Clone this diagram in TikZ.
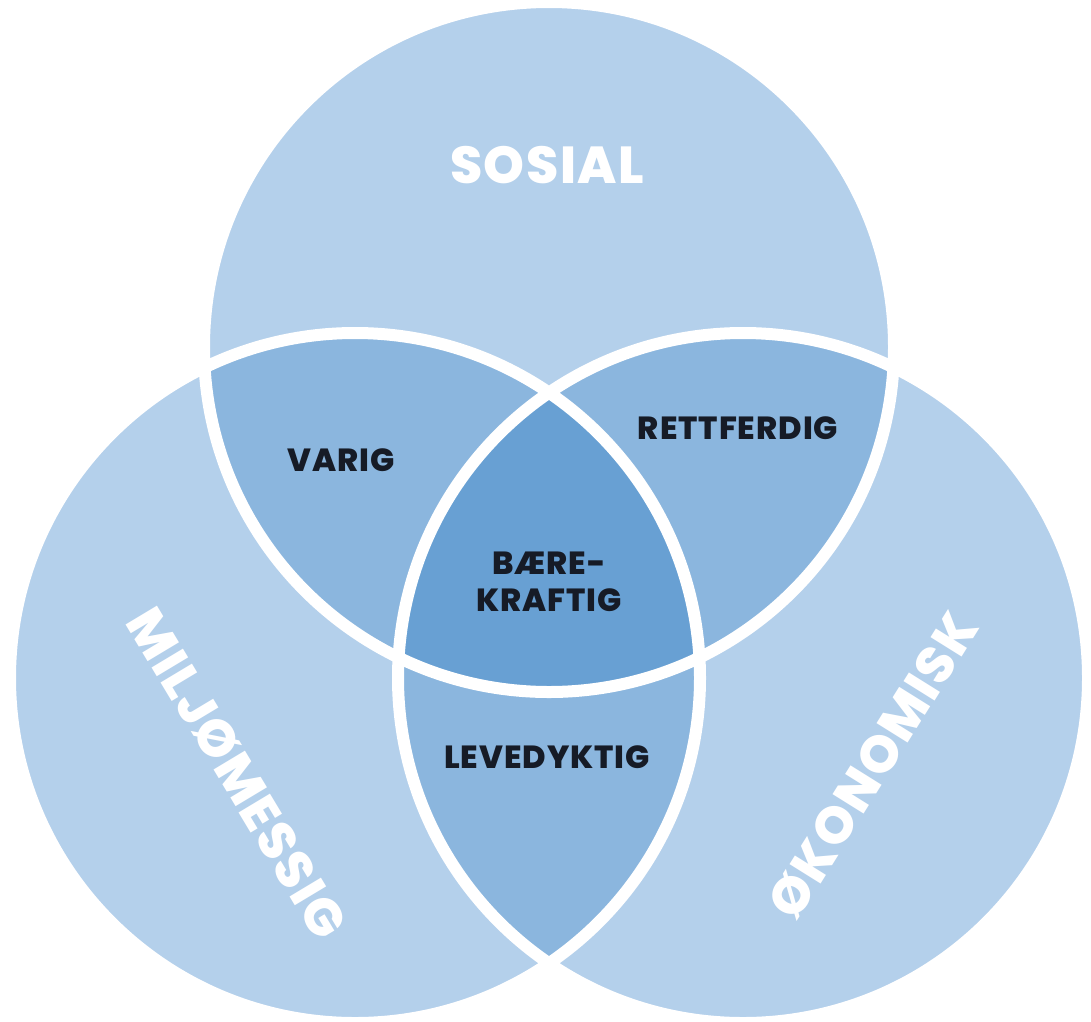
\documentclass[tikz,border=0pt]{standalone}
\usepackage{fontspec}
\setmainfont{Poppins}
\newfontfamily\vennfont{Poppins}[LetterSpace=3, BoldFont={* ExtraBold}]
\usepackage{tikz}
\usetikzlibrary{positioning}
\definecolor{venlight}{HTML}{B4D0EB}
\definecolor{venmid}{HTML}{8BB6DE}
\definecolor{vendark}{HTML}{68A0D3}
\definecolor{ink}{HTML}{161B26}

\begin{document}
\begin{tikzpicture}
[x=1pt, y=-1pt,
 ring/.style={draw=white, line width=12pt},
 pillar/.style={inner sep=0pt, text=white, font=\vennfont\fontsize{52}{52}\selectfont\bfseries},
 part/.style={inner sep=0pt, text=ink, align=center, font=\vennfont\fontsize{32}{37}\selectfont\bfseries}]
\useasboundingbox (0,0) rectangle (1091,1021);
\def\rad{345}
\coordinate (cs) at (549,347);
\coordinate (cm) at (355,678);
\coordinate (co) at (743,678);
\fill[venlight] (cs) circle[radius=\rad] (cm) circle[radius=\rad] (co) circle[radius=\rad];
\begin{scope}
\clip (cs) circle[radius=\rad];
\fill[venmid] (cm) circle[radius=\rad] (co) circle[radius=\rad];
\end{scope}
\begin{scope}
\clip (cm) circle[radius=\rad];
\fill[venmid] (co) circle[radius=\rad];
\end{scope}
\begin{scope}
\clip (cs) circle[radius=\rad];
\clip (cm) circle[radius=\rad];
\fill[vendark] (co) circle[radius=\rad];
\end{scope}
\draw[ring] (cs) circle[radius=\rad] (cm) circle[radius=\rad] (co) circle[radius=\rad];
\node[pillar] (sosial) at (547,165) {SOSIAL};
\node[pillar, rotate=-59] (miljo) at (237,773) {MILJØMESSIG};
\node[pillar, rotate=58] (okonomi) at (873,765) {ØKONOMISK};
\node[part] (varig) at (341,460) {VARIG};
\node[part] (rett) at (738,428) {RETTFERDIG};
\node[part] (baere) at (549,582) {BÆRE-\\KRAFTIG};
\node[part] (leve) at (547,757) {LEVEDYKTIG};
\end{tikzpicture}
\end{document}
